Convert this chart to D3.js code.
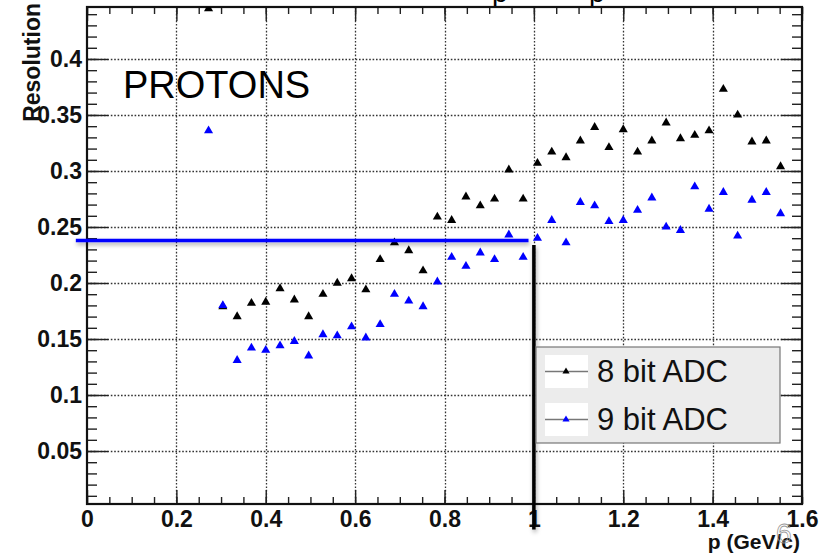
<!DOCTYPE html>
<html>
<head>
<meta charset="utf-8">
<script src="https://cdn.jsdelivr.net/npm/d3@7"></script>
<style>
  body { margin: 0; background: #fff; }
  svg { display: block; font-family: "Liberation Sans", Arial, Helvetica, sans-serif; }
</style>
</head>
<body>
<div id="chart"></div>
<script>
// momentum bins (GeV/c)
const momentum = [0.272, 0.304, 0.336, 0.368, 0.400, 0.432, 0.464, 0.496, 0.528, 0.560,
  0.592, 0.624, 0.656, 0.688, 0.720, 0.752, 0.784, 0.816, 0.848, 0.880,
  0.912, 0.944, 0.976, 1.008, 1.040, 1.072, 1.104, 1.136, 1.168, 1.200,
  1.232, 1.264, 1.296, 1.328, 1.360, 1.392, 1.424, 1.456, 1.488, 1.520, 1.552];

// resolution, 8 bit ADC
const res8bit = [0.445, 0.179, 0.170, 0.182, 0.183, 0.195, 0.185, 0.170, 0.190, 0.200,
  0.204, 0.194, 0.221, 0.236, 0.229, 0.211, 0.259, 0.256, 0.277, 0.269,
  0.275, 0.301, 0.275, 0.307, 0.317, 0.312, 0.327, 0.339, 0.321, 0.337,
  0.317, 0.327, 0.343, 0.329, 0.332, 0.336, 0.373, 0.350, 0.326, 0.327, 0.304];

// resolution, 9 bit ADC
const res9bit = [0.336, 0.180, 0.131, 0.142, 0.140, 0.144, 0.148, 0.135, 0.154, 0.153,
  0.161, 0.151, 0.163, 0.190, 0.184, 0.179, 0.201, 0.223, 0.215, 0.227,
  0.221, 0.243, 0.223, 0.240, 0.256, 0.236, 0.272, 0.269, 0.255, 0.256,
  0.265, 0.276, 0.250, 0.247, 0.286, 0.266, 0.281, 0.242, 0.274, 0.281, 0.262];

const seriesNames = ["8 bit ADC", "9 bit ADC"];
const seriesColors = ["#000000", "#0000ff"];

const xTicks = [0, 0.2, 0.4, 0.6, 0.8, 1, 1.2, 1.4, 1.6];
const yTicks = [0.05, 0.1, 0.15, 0.2, 0.25, 0.3, 0.35, 0.4];

// hand drawn markers on the slide
const cutLevel = { resolution: 0.238, from: -0.025, to: 0.988 };
const cutMomentum = { p: 1.0, from: 0.234, to: -0.02 };

const width = 833;
const height = 556;
const plot = { left: 87, right: 802, top: 7, bottom: 504 };

const xScale = d3.scaleLinear().domain([0, 1.6]).range([plot.left, plot.right]);
const yScale = d3.scaleLinear().domain([0.0027, 0.4464]).range([plot.bottom, plot.top]);

const svg = d3.select("#chart").append("svg")
  .attr("width", width)
  .attr("height", height);

svg.append("rect").attr("width", width).attr("height", height).attr("fill", "#fff");

const defs = svg.append("defs");
defs.append("clipPath").attr("id", "plotclip")
  .append("rect")
  .attr("x", plot.left).attr("y", plot.top)
  .attr("width", plot.right - plot.left).attr("height", plot.bottom - plot.top);

const shadow = defs.append("filter").attr("id", "shadow")
  .attr("filterUnits", "userSpaceOnUse")
  .attr("x", 0).attr("y", 0).attr("width", width).attr("height", height);
shadow.append("feDropShadow")
  .attr("dx", 1).attr("dy", 2.5).attr("stdDeviation", 2)
  .attr("flood-color", "#000").attr("flood-opacity", 0.35);

// title, cut off by the slide edge
svg.append("text")
  .attr("x", 492).attr("y", 2)
  .attr("font-size", 28)
  .text("p");
svg.append("text")
  .attr("x", 589).attr("y", 2)
  .attr("font-size", 28)
  .text("p");

// grid
const grid = svg.append("g")
  .attr("stroke", "#333")
  .attr("stroke-width", 1.3)
  .attr("stroke-dasharray", "1.6,1.8");

grid.selectAll(".vgrid").data(xTicks.slice(1, -1)).enter().append("line")
  .attr("x1", d => Math.round(xScale(d)) + 0.5).attr("x2", d => Math.round(xScale(d)) + 0.5)
  .attr("y1", plot.top).attr("y2", plot.bottom);

grid.selectAll(".hgrid").data(yTicks).enter().append("line")
  .attr("x1", plot.left).attr("x2", plot.right)
  .attr("y1", d => Math.round(yScale(d)) + 0.5).attr("y2", d => Math.round(yScale(d)) + 0.5);

// axes, ticks drawn inwards like ROOT
const xMinor = d3.range(0, 1.6001, 0.05);
const yMinor = d3.range(0.01, 0.4464, 0.01);

function styleAxis(g) {
  g.select(".domain").remove();
  g.selectAll(".tick line").attr("stroke", "#222").attr("stroke-width", 1.4);
  g.selectAll("text")
    .attr("fill", "#111")
    .attr("font-weight", "bold")
    .attr("font-size", 23)
    .attr("font-family", "\"Liberation Sans\", Arial, sans-serif");
}

svg.append("g").attr("transform", `translate(0,${plot.bottom})`)
  .call(d3.axisBottom(xScale).tickValues(xMinor).tickSize(-7).tickFormat(""))
  .call(styleAxis);
svg.append("g").attr("transform", `translate(0,${plot.bottom})`)
  .call(d3.axisBottom(xScale).tickValues(xTicks).tickSize(-14).tickPadding(7)
    .tickFormat(d => d === 0 || d === 1 ? d3.format("d")(d) : d3.format(".1f")(d)))
  .call(styleAxis);

svg.append("g").attr("transform", `translate(0,${plot.top})`)
  .call(d3.axisTop(xScale).tickValues(xMinor).tickSize(-7).tickFormat(""))
  .call(styleAxis);
svg.append("g").attr("transform", `translate(0,${plot.top})`)
  .call(d3.axisTop(xScale).tickValues(xTicks).tickSize(-14).tickFormat(""))
  .call(styleAxis);

svg.append("g").attr("transform", `translate(${plot.left},0)`)
  .call(d3.axisLeft(yScale).tickValues(yMinor).tickSize(-10).tickFormat(""))
  .call(styleAxis);
svg.append("g").attr("transform", `translate(${plot.left},0)`)
  .call(d3.axisLeft(yScale).tickValues(yTicks).tickSize(-21).tickPadding(5)
    .tickFormat(d => d3.format("")(+d.toFixed(2))))
  .call(styleAxis);

svg.append("g").attr("transform", `translate(${plot.right},0)`)
  .call(d3.axisRight(yScale).tickValues(yMinor).tickSize(-10).tickFormat(""))
  .call(styleAxis);
svg.append("g").attr("transform", `translate(${plot.right},0)`)
  .call(d3.axisRight(yScale).tickValues(yTicks).tickSize(-21).tickFormat(""))
  .call(styleAxis);

// frame
svg.append("rect")
  .attr("x", plot.left).attr("y", plot.top)
  .attr("width", plot.right - plot.left).attr("height", plot.bottom - plot.top)
  .attr("fill", "none").attr("stroke", "#111").attr("stroke-width", 2.2);

// points
const triangle = d3.symbol().type(d3.symbolTriangle).size(36);
const series = [res8bit, res9bit];
const pts = svg.append("g").attr("clip-path", "url(#plotclip)");
series.forEach((vals, i) => {
  pts.selectAll(".s" + i).data(vals).enter().append("path")
    .attr("class", "s" + i)
    .attr("d", triangle)
    .attr("transform", (d, j) => `translate(${xScale(momentum[j])},${yScale(d)})`)
    .attr("fill", seriesColors[i]);
});

// axis titles
svg.append("text")
  .attr("transform", "translate(40,3) rotate(-90)")
  .attr("text-anchor", "end")
  .attr("font-weight", "bold")
  .attr("font-size", 23)
  .attr("fill", "#111")
  .text("Resolution");

svg.append("text")
  .attr("x", 800).attr("y", 549)
  .attr("text-anchor", "end")
  .attr("font-weight", "bold")
  .attr("font-size", 21)
  .attr("fill", "#111")
  .text("p (GeV/c)");

svg.append("text")
  .attr("x", 123).attr("y", 98)
  .attr("font-size", 38)
  .attr("fill", "#000")
  .text("PROTONS");

// annotation lines
svg.append("line")
  .attr("x1", xScale(cutLevel.from)).attr("x2", xScale(cutLevel.to))
  .attr("y1", yScale(cutLevel.resolution)).attr("y2", yScale(cutLevel.resolution))
  .attr("stroke", "#0000ff").attr("stroke-width", 3.5)
  .attr("filter", "url(#shadow)");

svg.append("line")
  .attr("x1", xScale(cutMomentum.p)).attr("x2", xScale(cutMomentum.p))
  .attr("y1", yScale(cutMomentum.from)).attr("y2", yScale(cutMomentum.to))
  .attr("stroke", "#000").attr("stroke-width", 3.5)
  .attr("filter", "url(#shadow)");

// legend
const legend = svg.append("g").attr("transform", "translate(536,347)");
legend.append("rect")
  .attr("width", 244).attr("height", 96)
  .attr("fill", "#ececec").attr("stroke", "#777").attr("stroke-width", 1.2);
const entry = legend.selectAll(".entry").data(seriesNames).enter().append("g")
  .attr("transform", (d, i) => `translate(0,${8 + i * 48})`);
entry.append("rect")
  .attr("x", 9).attr("width", 43).attr("height", 33)
  .attr("fill", "#fff");
entry.append("line")
  .attr("x1", 9).attr("x2", 52).attr("y1", 16.5).attr("y2", 16.5)
  .attr("stroke", "#777").attr("stroke-width", 1.5);
entry.append("path")
  .attr("d", d3.symbol().type(d3.symbolTriangle).size(22))
  .attr("transform", "translate(30,16.5)")
  .attr("fill", (d, i) => seriesColors[i]);
entry.append("text")
  .attr("x", 61).attr("y", 27)
  .attr("font-size", 31)
  .attr("fill", "#111")
  .text(d => d);

// slide number
svg.append("text")
  .attr("x", 776).attr("y", 543)
  .attr("font-size", 28)
  .attr("fill", "none")
  .attr("stroke", "#999")
  .attr("stroke-width", 0.8)
  .text("6");
</script>
</body>
</html>
